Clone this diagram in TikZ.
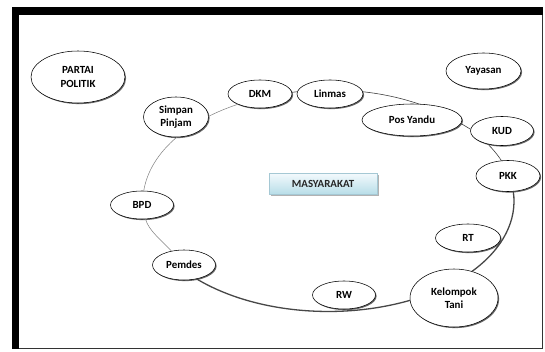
\documentclass[tikz,border=0pt]{standalone}
\usepackage{fontspec}
\setmainfont{Carlito}
\usetikzlibrary{shapes.geometric,shadows}
\definecolor{boxtop}{RGB}{242,249,252}
\definecolor{boxbot}{RGB}{183,221,232}
\definecolor{boxline}{RGB}{165,200,212}
\begin{document}
\begin{tikzpicture}[x=1pt,y=1pt,
  org/.style={ellipse, draw=black, line width=0.55pt, fill=white, inner sep=0pt, outer sep=0pt,
    font=\bfseries\fontsize{10.9}{13.4}\selectfont, align=center,
    drop shadow={shadow xshift=1.1pt, shadow yshift=-1.1pt, fill=black, opacity=0.6}},
  ringthin/.style={line width=0.5pt, draw=black!50},
  ringmid/.style={line width=0.6pt, draw=black!75},
  ringdark/.style={line width=1.3pt, draw=black!72},
  centerbox/.style={rectangle, draw=boxline, line width=0.5pt, top color=boxtop, bottom color=boxbot,
    minimum width=108pt, minimum height=21pt, inner sep=0pt, outer sep=0pt,
    font=\bfseries\fontsize{10.9}{13.4}\selectfont, text=black!85,
    drop shadow={shadow xshift=1.6pt, shadow yshift=-1.6pt, fill=black, opacity=0.3}}
]
\useasboundingbox (0,0) rectangle (545,351);
\fill[white] (0,0) rectangle (545,351);
% frame
\fill[black] (12,336) rectangle (543,344);
\fill[black] (12,2) rectangle (19,344);
\draw[black!80, line width=1pt] (19,3) -- (542.5,3) -- (542.5,336);

% nodes
\node[org, minimum width=94pt, minimum height=52pt] (partai) at (78,274) {PARTAI\\POLITIK};
\node[org, minimum width=75pt, minimum height=36pt] (yayasan) at (483.5,280) {Yayasan};
\node[org, minimum width=64pt, minimum height=28pt] (dkm) at (260,257) {DKM};
\node[org, minimum width=66pt, minimum height=28pt] (linmas) at (330,257) {Linmas};
\node[org, minimum width=65pt, minimum height=40pt] (simpan) at (176,234) {Simpan\\Pinjam};
\node[org, minimum width=100pt, minimum height=32pt] (posy) at (412,231) {Pos Yandu};
\node[org, minimum width=63pt, minimum height=29pt] (kud) at (502,220) {KUD};
\node[org, minimum width=64pt, minimum height=31pt] (pkk) at (508,175) {PKK};
\node[centerbox] (masy) at (323,167) {MASYARAKAT};
\node[org, minimum width=63pt, minimum height=28pt] (bpd) at (142,146) {BPD};
\node[org, minimum width=65pt, minimum height=28pt] (rt) at (468,113) {RT};
\node[org, minimum width=63pt, minimum height=30pt] (pemdes) at (184,86) {Pemdes};
\node[org, minimum width=63pt, minimum height=28pt] (rw) at (344,56) {RW};
\node[org, minimum width=88pt, minimum height=58pt] (kt) at (454,53) {Kelompok\\Tani};

% ring connectors
\draw[ringthin] (bpd.83) to[out=81,in=220,out distance=19.6pt,in distance=24.6pt] (simpan.-87);
\draw[ringthin] (simpan.1) to[out=27,in=198.5,out distance=10.3pt,in distance=11pt] (dkm.205);
\draw[ringmid] (dkm.3) -- (linmas.176);
\draw[ringmid] (linmas.4) to[out=-6,in=161,out distance=19.9pt,in distance=18.5pt] (posy.65);
\draw[ringmid] (posy.-4) -- (kud.177);
\draw[ringmid] (kud.222) to[out=-45,in=123,out distance=7.7pt,in distance=7pt] (pkk.113);
\draw[ringdark] (pkk.-71) to[out=-81.5,in=36,out distance=29.3pt,in distance=38.2pt] (kt.56);
\draw[ringdark] (kt.183) to[out=196,in=-31,out distance=74.7pt,in distance=65.7pt] (pemdes.-48);
\draw[ringthin] (pemdes.132) to[out=132,in=-75,out distance=14.5pt,in distance=12.5pt] (bpd.-76);
\end{tikzpicture}
\end{document}
